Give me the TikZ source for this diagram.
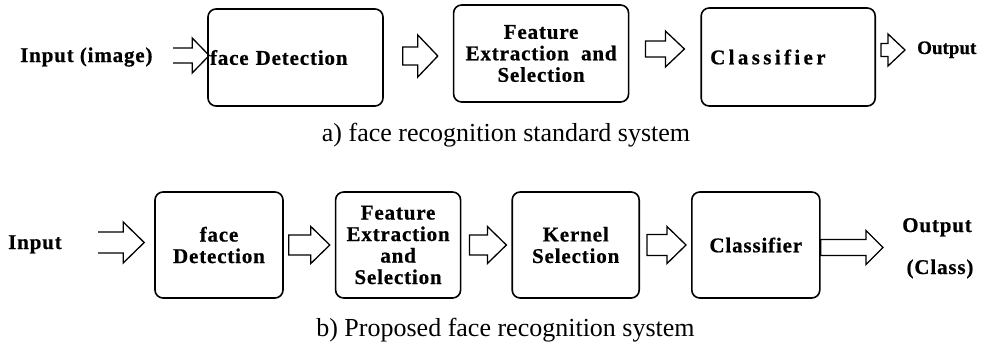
\documentclass[tikz,border=0pt]{standalone}
\usepackage{fontspec}
\setmainfont{Liberation Serif}
\newfontfamily\blockfont[LetterSpace=4,FakeBold=0.6]{Liberation Serif}
\usetikzlibrary{calc,positioning}

\begin{document}
\begin{tikzpicture}[x=1pt,y=-1pt]
\tikzstyle{block}=[draw, line width=1.6pt, rounded corners=8pt, align=center,
inner sep=2pt, font=\blockfont\bfseries\fontsize{21}{21.5}\selectfont]
\tikzstyle{term}=[inner sep=0pt, font=\blockfont\bfseries\fontsize{21}{21.5}\selectfont]
\tikzstyle{caption}=[inner sep=0pt, font=\fontsize{26}{30}\selectfont]
\tikzset{shaft/.store in=\fatshaft, barb/.store in=\fatbarb, tiplen/.store in=\fattip,
shaft=9pt, barb=20pt, tiplen=20pt}
\tikzstyle{fat}=[line width=1.3pt, to path={let \p1=(\tikztostart), \p2=(\tikztotarget) in
(\x1,\y1+\fatshaft) -- (\x2-\fattip,\y1+\fatshaft) -- (\x2-\fattip,\y1+\fatbarb) -- (\x2,\y1)
-- (\x2-\fattip,\y1-\fatbarb) -- (\x2-\fattip,\y1-\fatshaft) -- (\x1,\y1-\fatshaft) -- cycle}]
\tikzstyle{openfat}=[line width=1.3pt, to path={let \p1=(\tikztostart), \p2=(\tikztotarget) in
(\x1,\y1+\fatshaft) -- (\x2-\fattip,\y1+\fatshaft) -- (\x2-\fattip,\y1+\fatbarb) -- (\x2,\y1)
-- (\x2-\fattip,\y1-\fatbarb) -- (\x2-\fattip,\y1-\fatshaft) -- (\x1,\y1-\fatshaft)}]

\useasboundingbox (0,0) rectangle (1002,343);

% a) standard system
\node[term, anchor=base west] (inimg) at (20,62) {Input (image)};
\node[block, minimum height=97pt, text width=171pt, align=left] (topdet) at (295.5,57.5) {face Detection};
\node[block, minimum width=175pt, minimum height=97pt, right=69pt of topdet, yshift=4pt] (topfeat) {Feature\\Extraction~~and\\Selection};
\node[block, minimum height=98pt, text width=156pt, inner xsep=9pt, align=left, right=71pt of topfeat, yshift=-3.5pt] (topcls) {\addfontfeature{LetterSpace=16}Classifier};
\node[term, anchor=base west, font=\blockfont\bfseries\fontsize{19}{20}\selectfont] (out1) at (917,54) {\addfontfeature{LetterSpace=0}Output};
\node[caption, anchor=base] (capa) at (506,141) {a) face recognition standard system};

\coordinate (inA) at (173,55.5);
\draw[openfat, shaft=7.5pt, barb=17.5pt, tiplen=17pt] (inA) to ([xshift=2pt]topdet.west);
\draw[fat, shaft=9pt, barb=21pt, tiplen=20pt] ([xshift=19pt,yshift=1.5pt]topdet.east) to ([xshift=-15pt]topfeat.west);
\draw[fat, shaft=8pt, barb=18pt, tiplen=19pt] ([xshift=16pt,yshift=4.5pt]topfeat.east) to ([xshift=-16pt]topcls.west);
\draw[fat, shaft=6.5pt, barb=16pt, tiplen=17pt] ([xshift=5pt,yshift=7pt]topcls.east) to ([xshift=-12pt]out1.west);

% b) proposed system
\node[term, anchor=base west] (inp) at (8,249) {Input};
\node[block, minimum width=128pt, minimum height=106pt] (botdet) at (219,245) {face\\Detection};
\node[block, minimum width=125pt, minimum height=106pt, right=51pt of botdet] (botfeat) {Feature\\Extraction\\and\\Selection};
\node[block, minimum width=127pt, minimum height=106pt, right=50pt of botfeat] (botker) {Kernel\\Selection};
\node[block, minimum width=128pt, minimum height=106pt, right=51pt of botker] (botcls) {Classifier};
\node[term, anchor=base] (out2) at (937,232) {Output};
\node[term, anchor=base] (cls2) at (940,274) {(Class)};
\node[caption, anchor=base] (capb) at (505.5,336) {b) Proposed face recognition system};

\coordinate (inB) at (98,242.5);
\draw[openfat, shaft=10.5pt, barb=20.5pt, tiplen=21pt] (inB) to ([xshift=-10pt]botdet.west);
\draw[fat, shaft=10pt, barb=18.5pt, tiplen=19pt] ([xshift=5pt]botdet.east) to ([xshift=-5pt]botfeat.west);
\draw[fat, shaft=10pt, barb=18.5pt, tiplen=19pt] ([xshift=8pt]botfeat.east) to ([xshift=-5pt]botker.west);
\draw[fat, shaft=10.5pt, barb=18.5pt, tiplen=19pt] ([xshift=7pt]botker.east) to ([xshift=-5pt]botcls.west);
\draw[fat, shaft=8pt, barb=17pt, tiplen=17pt] ([yshift=-2.5pt]botcls.east) to ([xshift=-19pt]out2.west);

\end{tikzpicture}
\end{document}
